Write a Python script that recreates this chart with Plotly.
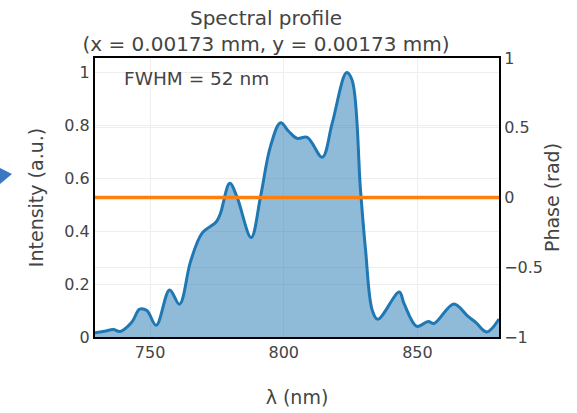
import plotly.graph_objects as go

# Spectral intensity (normalised) sampled along wavelength
wavelength_nm = [729.4, 733.0, 736.3, 738.8, 743.2, 746.1, 748.8, 752.3, 757.3, 761.0,
                 765.1, 769.4, 774.8, 776.3, 779.8, 782.5, 787.8, 791.3, 795.0, 798.8,
                 801.9, 805.0, 808.8, 814.4, 818.1, 823.5, 825.6, 828.7, 830.6, 833.1,
                 835.2, 843.2, 845.0, 849.8, 854.0, 856.2, 863.6, 868.7, 871.8, 875.9,
                 880.5]
intensity = [0.016, 0.022, 0.028, 0.021, 0.057, 0.105, 0.1, 0.044, 0.178, 0.124,
             0.284, 0.392, 0.436, 0.467, 0.581, 0.53, 0.376, 0.53, 0.72, 0.81,
             0.777, 0.751, 0.755, 0.68, 0.808, 1.0, 0.97, 0.556, 0.328, 0.101,
             0.067, 0.17, 0.126, 0.04, 0.059, 0.051, 0.125, 0.08, 0.055, 0.019,
             0.068]

# Flat spectral phase across the window
phase_wavelength_nm = [729.4, 880.5]
phase_rad = [0.0, 0.0]

x_ticks = [750, 800, 850]
y_ticks = [0, 0.2, 0.4, 0.6, 0.8, 1]
y2_ticks = [-1, -0.5, 0, 0.5, 1]
y2_ticktext = ["−1", "−0.5", "0", "0.5", "1"]

fwhm_nm = 52
title_text = "Spectral profile<br>(x = 0.00173 mm, y = 0.00173 mm)"

FONT = "Verdana, 'DejaVu Sans', sans-serif"
TXT = "#444444"

fig = go.Figure()
fig.add_trace(go.Scatter(
    x=wavelength_nm, y=intensity, mode="lines",
    line=dict(color="#1f77b4", width=3, shape="spline", smoothing=1.0),
    fill="tozeroy", fillcolor="rgba(31,119,180,0.5)",
    showlegend=False, yaxis="y",
))
fig.add_trace(go.Scatter(
    x=phase_wavelength_nm, y=phase_rad, mode="lines",
    line=dict(color="#ff7f0e", width=3.5),
    showlegend=False, yaxis="y2",
))

axis_common = dict(
    showline=True, linecolor="black", linewidth=2,
    showgrid=True, gridcolor="#eeeeee", gridwidth=1,
    zeroline=False, ticks="", automargin=False,
    tickfont=dict(family=FONT, size=16, color=TXT),
)

fig.update_layout(
    width=577, height=413,
    margin=dict(l=95, r=78, t=58, b=76),
    paper_bgcolor="white", plot_bgcolor="white",
    font=dict(family=FONT, color=TXT),
    title=dict(text=title_text, x=266 / 577, xanchor="center",
               y=1 - 25 / 413, yanchor="top", automargin=False,
               font=dict(family=FONT, size=20, color=TXT)),
    xaxis=dict(range=[729.4, 880.5], tickvals=x_ticks, mirror=True,
               title=dict(text="λ (nm)", font=dict(family=FONT, size=19, color=TXT), standoff=29),
               **axis_common),
    yaxis=dict(range=[0, 1.055], tickvals=y_ticks,
               title=dict(text="Intensity (a.u.)", font=dict(family=FONT, size=19, color=TXT), standoff=16),
               **axis_common),
    yaxis2=dict(range=[-1, 1], tickvals=y2_ticks, ticktext=y2_ticktext,
                overlaying="y", side="right",
                title=dict(text="Phase (rad)", font=dict(family=FONT, size=19, color=TXT), standoff=4),
                **axis_common),
    annotations=[dict(
        text=f"FWHM = {fwhm_nm} nm", xref="paper", yref="paper",
        x=27 / 404, y=(337 - 78) / 279, xanchor="left", yanchor="middle",
        showarrow=False, font=dict(family=FONT, size=18.5, color=TXT),
    )],
    shapes=[dict(
        type="path", xref="paper", yref="paper",
        path=f"M {-95/404},{(337-168)/279} L {(12-95)/404},{(337-174)/279} L {-95/404},{(337-184)/279} Z",
        fillcolor="#3b78c4", line=dict(width=0), layer="above",
    )],
)

fig.write_html("out.html")
